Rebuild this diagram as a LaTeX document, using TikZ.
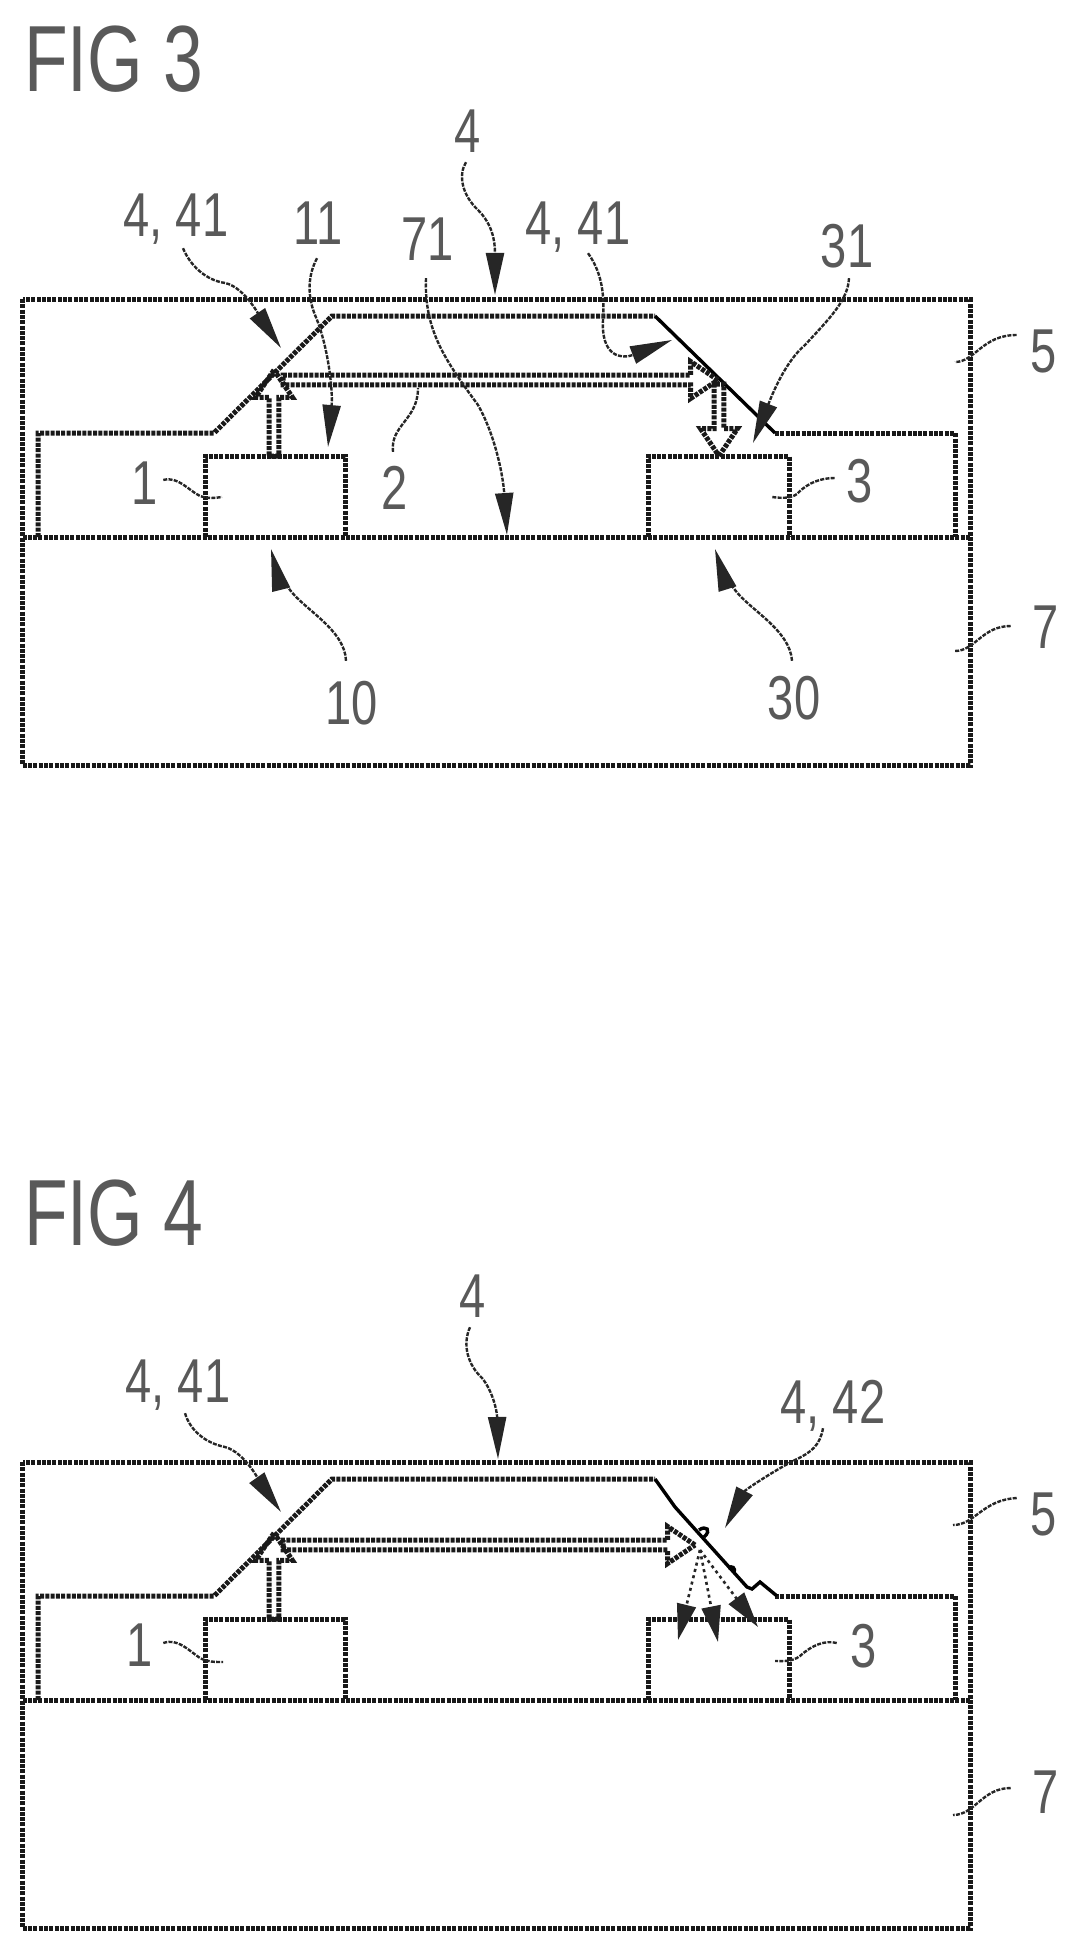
\documentclass[tikz,border=0pt]{standalone}
\usepackage{fontspec}
\setmainfont{Liberation Sans}
\newfontfamily\narrowfont[FakeStretch=0.76]{Liberation Sans}
\usetikzlibrary{positioning,arrows.meta,shapes.arrows}

\newcommand{\housing}{
	\draw[hatch] (22.5,299) rectangle (970,765);
	\draw[hatch] (22.5,537) -- (970,537);
	\draw[hatch] (38,537) -- (38,433) -- (214,433) -- (332,316) -- (655,316);
	\draw[hatch] (775,433) -- (955,433) -- (955,537);
	\draw[hatch] (205,537) -- (205,456) -- (345,456) -- (345,537);
	\draw[hatch] (648,537) -- (648,456) -- (789,456) -- (789,537);
}

\begin{document}
\begin{tikzpicture}[
				x=1pt, y=-1pt,
				hatch/.style={line width=5pt, dash pattern=on 4pt off 1.3pt, black!90},
				mirror/.style={line width=3.4pt},
				leader/.style={line width=2.4pt, dash pattern=on 4pt off 1.3pt, black!85},
				pointer/.style={leader, -{Triangle[length=42pt, width=18pt]}},
				ray/.style={line width=2.6pt, dash pattern=on 3pt off 3.5pt, black!85, -{Triangle[length=36pt, width=19pt]}},
				beam/.style={single arrow, draw, hatch, inner sep=0pt, outer sep=0pt, minimum width=37pt,
					single arrow head extend=7pt, single arrow tip angle=68, anchor=tail},
				reflabel/.style={inner sep=0pt, text height=44pt, text depth=0pt, text=black!65,
					font=\narrowfont\fontsize{62}{62}\selectfont},
				figlabel/.style={inner sep=0pt, anchor=base west, text=black!65,
					font=\narrowfont\fontsize{94}{94}\selectfont}
			]
			\useasboundingbox (0,0) rectangle (1070,1953);

			% FIG 3
			\node[figlabel] (figthree) at (24,92) {FIG 3};
			\housing
			\draw[mirror] (655,316) -- (775,433);
			\node[beam, rotate=90, minimum height=86pt] (beamup) at (274,456) {};
			\node[beam, minimum height=435pt] (beamacross) at (283,380) {};
			\node[beam, rotate=-90, minimum height=72pt] (beamdown) at (719,384) {};

			\node[reflabel] (labelfour) at (468,131) {4};
			\node[reflabel] (labelmirror) at (176,215) {4, 41};
			\node[reflabel] (labeleleven) at (318,222) {11};
			\node[reflabel] (labelsubstrate) at (428,239) {71};
			\node[reflabel] (labelmirrortwo) at (578,222) {4, 41};
			\node[reflabel] (labelthirtyone) at (847,245) {31};
			\node[reflabel] (labelhousing) at (1044,350) {5};
			\node[reflabel] (labelcarrier) at (1046,626) {7};
			\node[reflabel] (labelone) at (145,482) {1};
			\node[reflabel] (labelthree) at (860,480) {3};
			\node[reflabel] (labeltwo) at (395,487) {2};
			\node[reflabel] (labelten) at (352,702) {10};
			\node[reflabel] (labelthirty) at (794,697) {30};

			\coordinate (tipfour) at (495,295);
			\coordinate (tipmirror) at (281,348);
			\coordinate (tipeleven) at (328,447);
			\coordinate (tipsubstrate) at (507,535);
			\coordinate (tipmirrortwo) at (672,340);
			\coordinate (tipthirtyone) at (753,443);
			\coordinate (tipten) at (271,549);
			\coordinate (tipthirty) at (715,549);

			\draw[pointer] (labelfour.south) ++(-2,9) .. controls (458,175) and (462,195) .. (478,210) .. controls (492,224) and (495,240) .. (tipfour);
			\draw[pointer] (labelmirror.south) ++(7,11) .. controls (190,265) and (205,280) .. (225,283) .. controls (245,287) and (262,320) .. (tipmirror);
			\draw[pointer] (labeleleven.south) ++(-1,14) .. controls (308,275) and (307,295) .. (315,315) .. controls (328,345) and (333,390) .. (tipeleven);
			\draw[pointer] (labelsubstrate.south) ++(-2,17) .. controls (424,330) and (445,360) .. (478,405) .. controls (495,435) and (503,475) .. (tipsubstrate);
			\draw[pointer] (labelmirrortwo.south) ++(10,9) .. controls (600,270) and (605,290) .. (603,320) .. controls (601,355) and (620,360) .. (tipmirrortwo);
			\draw[pointer] (labelthirtyone.south) ++(2,11) .. controls (848,300) and (830,318) .. (805,345) .. controls (785,362) and (772,395) .. (tipthirtyone);
			\draw[leader] (labelhousing.west) ++(-14,-15) .. controls (982,335) and (975,362) .. (955,362);
			\draw[leader] (labelcarrier.west) ++(-22,0) .. controls (982,626) and (975,651) .. (955,651);
			\draw[leader] (labelone.east) ++(5,-2) .. controls (178,476) and (188,490) .. (200,496) .. controls (207,499) and (215,498) .. (222,497);
			\draw[leader] (labelthree.west) ++(-12,-2) .. controls (822,478) and (808,482) .. (797,494) .. controls (790,499) and (780,498) .. (772,497);
			\draw[leader] (labeltwo.north) ++(-2,-13) .. controls (390,425) and (418,420) .. (418,388);
			\draw[pointer] (labelten.north) ++(-6,-19) .. controls (345,630) and (305,610) .. (290,590) .. controls (280,577) and (275,565) .. (tipten);
			\draw[pointer] (labelthirty.north) ++(-2,-14) .. controls (790,630) and (750,610) .. (735,590) .. controls (725,577) and (720,565) .. (tipthirty);

			% FIG 4
			\node[figlabel] (figfour) at (24,1245) {FIG 4};
			\begin{scope}[shift={(0,1163)}]
			\housing
			\end{scope}
			\draw[mirror] (655,1479) -- (675,1507) -- (747,1587) -- (752,1589) -- (760,1582) -- (777,1596);
			\draw[mirror] (699,1530) .. controls (706,1525) and (712,1530) .. (704,1537);
			\draw[mirror] (728,1568) .. controls (732,1565) and (736,1568) .. (734,1573);
			\node[beam, rotate=90, minimum height=86pt] (beamupf) at (274,1619) {};
			\node[beam, minimum height=412pt] (beamacrossf) at (283,1545) {};

			\node[reflabel] (labelfourf) at (473,1295) {4};
			\node[reflabel] (labelmirrorf) at (178,1380) {4, 41};
			\node[reflabel] (labelscatter) at (833,1401) {4, 42};
			\node[reflabel] (labelhousingf) at (1044,1513) {5};
			\node[reflabel] (labelcarrierf) at (1046,1791) {7};
			\node[reflabel] (labelonef) at (140,1644) {1};
			\node[reflabel] (labelthreef) at (864,1645) {3};

			\coordinate (tipfourf) at (498,1459);
			\coordinate (tipmirrorf) at (281,1512);
			\coordinate (tipscatter) at (725,1528);
			\coordinate (hit) at (700,1550);

			\draw[pointer] (labelfourf.south) ++(-3,10) .. controls (462,1345) and (468,1365) .. (482,1378) .. controls (492,1390) and (497,1410) .. (tipfourf);
			\draw[pointer] (labelmirrorf.south) ++(7,11) .. controls (190,1430) and (205,1443) .. (225,1447) .. controls (245,1452) and (262,1485) .. (tipmirrorf);
			\draw[pointer] (labelscatter.south) ++(-10,5) .. controls (820,1445) and (812,1452) .. (795,1460) .. controls (775,1470) and (745,1490) .. (tipscatter);
			\draw[leader] (labelhousingf.west) ++(-14,-15) .. controls (982,1500) and (975,1525) .. (953,1525);
			\draw[leader] (labelcarrierf.west) ++(-22,-3) .. controls (982,1788) and (975,1815) .. (953,1815);
			\draw[leader] (labelonef.east) ++(10,-1) .. controls (178,1638) and (188,1650) .. (200,1658) .. controls (207,1662) and (215,1662) .. (223,1662);
			\draw[leader] (labelthreef.west) ++(-14,-2) .. controls (825,1640) and (812,1645) .. (800,1656) .. controls (792,1662) and (783,1661) .. (775,1661);

			\draw[ray] (hit) -- (678,1640);
			\draw[ray] (hit) -- (718,1642);
			\draw[ray] (hit) -- (758,1627);
			\end{tikzpicture}
\end{document}
